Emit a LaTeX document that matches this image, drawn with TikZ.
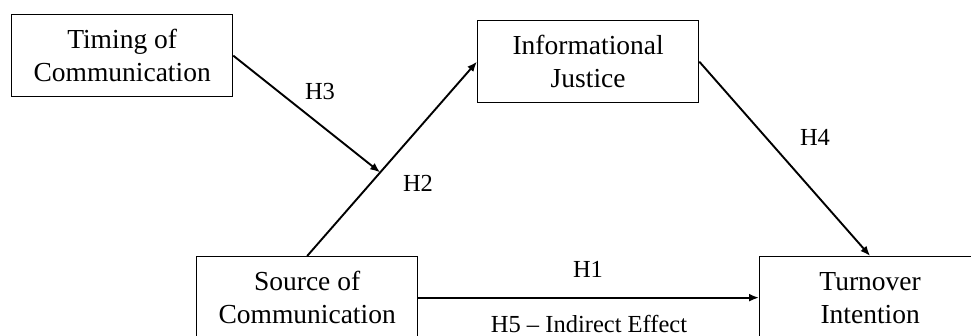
\documentclass[tikz,border=0pt]{standalone}
\usepackage{fontspec}
\setmainfont{Liberation Serif}
\usetikzlibrary{arrows.meta,calc}
\begin{document}
\begin{tikzpicture}[x=1pt,y=-1pt,
  box/.style={draw,line width=1.3pt,anchor=north west,minimum width=221pt,minimum height=82pt,inner sep=0pt,align=center,font=\fontsize{27.5}{33}\selectfont},
  conn/.style={line width=1.9pt,-{Latex[length=10pt,width=8pt]}},
  lab/.style={anchor=base,inner sep=0pt,font=\fontsize{24.5}{29}\selectfont}]
\useasboundingbox (0,0) rectangle (971,336);
\clip (0,0) rectangle (971,336);
\node[box] (tim) at (11,14) {Timing of\\Communication};
\node[box] (info) at (477,20) {Informational\\Justice};
\node[box] (src) at (196,256) {Source of\\Communication};
\node[box] (turn) at (759,256) {Turnover\\Intention};
\coordinate (m) at ($(src.north)!0.43!(info.west)$);
\draw[conn] (src.north) -- (info.west);
\draw[conn] (tim.east) -- (m);
\draw[conn] (info.east) -- (turn.north);
\draw[conn] (src.east) -- (turn.west);
\node[lab] (h3) at (320,100) {H3};
\node[lab] (h2) at (418,192) {H2};
\node[lab] (h4) at (815,146) {H4};
\node[lab] (h1) at (588,278) {H1};
\node[lab] (h5) at (589,333) {H5 -- Indirect Effect};
\end{tikzpicture}
\end{document}
